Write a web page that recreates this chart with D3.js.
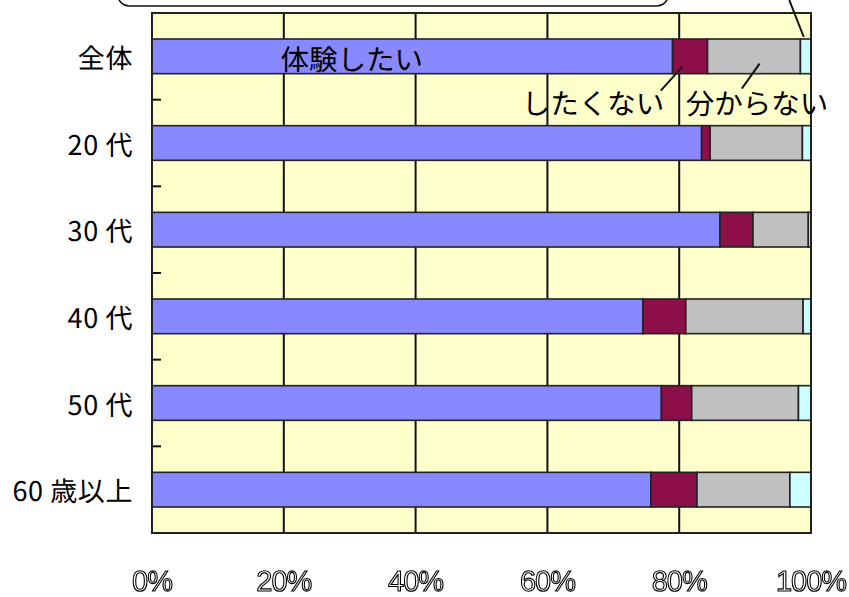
<!DOCTYPE html>
<html>
<head>
<meta charset="utf-8">
<script src="https://cdn.jsdelivr.net/npm/d3@7/dist/d3.min.js"></script>
<style>
  html, body { margin: 0; padding: 0; background: #fff; }
  svg { display: block; }
  text { text-rendering: geometricPrecision; }
</style>
</head>
<body>
<script>
// Survey: 体験したい / したくない / 分からない / 無回答, by age group (percent)
const categories = ["全体", "20 代", "30 代", "40 代", "50 代", "60 歳以上"];
const seriesNames = ["体験したい", "したくない", "分からない", "無回答"];
const wantValues    = [79.0, 83.4, 86.2, 74.5, 77.3, 75.7];
const notWantValues = [5.3, 1.3, 5.0, 6.5, 4.6, 7.0];
const unsureValues  = [14.1, 14.0, 8.4, 17.8, 16.2, 14.1];
const noAnswerValues = [1.6, 1.3, 0.4, 1.2, 1.9, 3.2];
const tickValues = [0, 20, 40, 60, 80, 100];
const tickLabels = ["0%", "20%", "40%", "60%", "80%", "100%"];

const W = 849, H = 597;
const margin = { left: 152, top: 13, right: 38, bottom: 64 };
const pw = W - margin.left - margin.right;
const ph = H - margin.top - margin.bottom;

const colors = ["#8888ff", "#8c0f4a", "#c0c0c0", "#ccffff"];

const rows = categories.map((c, i) => ({
  cat: c,
  [seriesNames[0]]: wantValues[i],
  [seriesNames[1]]: notWantValues[i],
  [seriesNames[2]]: unsureValues[i],
  [seriesNames[3]]: noAnswerValues[i]
}));
const stacked = d3.stack().keys(seriesNames)(rows);

const x = d3.scaleLinear().domain([0, 100]).range([0, pw]);
const y = d3.scaleBand().domain(categories).range([0, ph]).paddingInner(0).paddingOuter(0);
const barH = y.bandwidth() * 0.4;
const barY = c => y(c) + (y.bandwidth() - barH) / 2;

const svg = d3.select("body").append("svg").attr("width", W).attr("height", H);

// pass-through filter: rasterises the outlined labels with plain grey antialiasing
const defs = svg.append("defs");
defs.append("filter").attr("id", "flat")
  .append("feOffset").attr("dx", 0).attr("dy", 0);

// callout frame at the top edge
svg.append("rect")
  .attr("x", 118).attr("y", -38).attr("width", 550).attr("height", 44)
  .attr("rx", 11).attr("ry", 11)
  .attr("fill", "#fff").attr("stroke", "#111").attr("stroke-width", 1.6);

const g = svg.append("g").attr("transform", `translate(${margin.left},${margin.top})`);

// plot background
g.append("rect").attr("width", pw).attr("height", ph).attr("fill", "#ffffcc");

// vertical gridlines
g.append("g").selectAll("line")
  .data(tickValues.slice(1, -1))
  .join("line")
  .attr("x1", d => x(d)).attr("x2", d => x(d))
  .attr("y1", 0).attr("y2", ph)
  .attr("stroke", "#111").attr("stroke-width", 2);

// stacked bars
g.append("g").selectAll("g")
  .data(stacked)
  .join("g")
  .attr("fill", (d, i) => colors[i])
  .selectAll("rect")
  .data(d => d)
  .join("rect")
  .attr("x", d => x(d[0]))
  .attr("width", d => x(d[1]) - x(d[0]))
  .attr("y", d => barY(d.data.cat))
  .attr("height", barH)
  .attr("stroke", "#222")
  .attr("stroke-width", 1.6);

// inward ticks on the category axis at band boundaries
g.append("g").selectAll("line")
  .data(categories.slice(1))
  .join("line")
  .attr("x1", 0).attr("x2", 9)
  .attr("y1", d => y(d)).attr("y2", d => y(d))
  .attr("stroke", "#111").attr("stroke-width", 2);

// plot frame
g.append("rect").attr("width", pw).attr("height", ph)
  .attr("fill", "none").attr("stroke", "#222").attr("stroke-width", 2);

// category labels
g.append("g").selectAll("text")
  .data(categories)
  .join("text")
  .attr("x", -19)
  .attr("y", d => y(d) + y.bandwidth() / 2)
  .attr("text-anchor", "end")
  .attr("dominant-baseline", "central")
  .attr("font-family", "'Noto Sans CJK JP', sans-serif")
  .attr("font-size", 27)
  .attr("letter-spacing", 0.6)
  .attr("fill", "#000")
  .text(d => d);

// percent axis labels (outlined glyphs)
g.append("g")
  .attr("filter", "url(#flat)")
  .selectAll("text")
  .data(tickValues)
  .join("text")
  .attr("x", d => x(d))
  .attr("y", ph + 58)
  .attr("text-anchor", "middle")
  .attr("font-family", "'Liberation Sans Narrow', 'Liberation Sans', sans-serif")
  .attr("font-size", 29)
  .attr("letter-spacing", -1)
  .attr("fill", "#fff")
  .attr("stroke", "#000")
  .attr("stroke-width", 1.1)
  .text((d, i) => tickLabels[i]);

// series labels with leader lines
const cat0 = categories[0];
const annFont = "'Noto Sans CJK JP', sans-serif";
const annSize = 28.5;
g.append("text")
  .attr("x", x(19.5)).attr("y", barY(cat0) + barH / 2 + 2)
  .attr("dominant-baseline", "central")
  .attr("font-family", annFont).attr("font-size", annSize)
  .text(seriesNames[0]);

g.append("text")
  .attr("x", x(56.1)).attr("y", y(categories[1]) + 3)
  .attr("dominant-baseline", "central")
  .attr("font-family", annFont).attr("font-size", annSize)
  .text(seriesNames[1]);

g.append("text")
  .attr("x", x(81.0)).attr("y", y(categories[1]) + 3)
  .attr("dominant-baseline", "central")
  .attr("font-family", annFont).attr("font-size", annSize)
  .text(seriesNames[2]);

const leaders = [
  { x1: 80.5, y1: barY(cat0) + barH - 7, x2: 77.2, y2: y(categories[1]) - 9 },
  { x1: 92.2, y1: barY(cat0) + barH - 10, x2: 89.5, y2: y(categories[1]) - 11 },
  { x1: 96.7, y1: -margin.top, x2: 98.9, y2: barY(cat0) - 2 }
];
g.append("g").selectAll("line")
  .data(leaders)
  .join("line")
  .attr("x1", d => x(d.x1)).attr("y1", d => d.y1)
  .attr("x2", d => x(d.x2)).attr("y2", d => d.y2)
  .attr("stroke", "#111").attr("stroke-width", 2);
</script>
</body>
</html>
